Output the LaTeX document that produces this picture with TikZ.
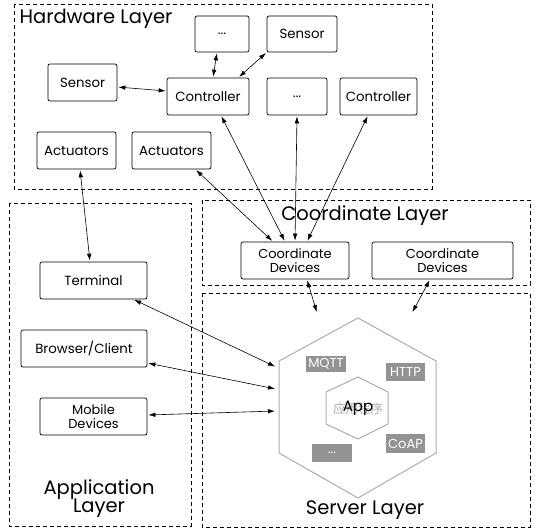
\documentclass[tikz,border=0pt]{standalone}
\usepackage{fontspec}
\setmainfont{Poppins}
\newfontfamily\cjk{Noto Sans CJK SC}
\usetikzlibrary{arrows.meta,calc}
\definecolor{tagfill}{HTML}{939393}
\definecolor{hexline}{HTML}{ADADAD}
\begin{document}
\begin{tikzpicture}[x=1pt,y=-1pt,
  box/.style={draw, rounded corners=2pt, line width=0.7pt, inner sep=0pt, align=center, font=\fontsize{13.3}{14}\selectfont},
  smallbox/.style={box, font=\fontsize{13}{14}\selectfont},
  layer/.style={draw, dashed, dash pattern=on 4pt off 3pt, line width=0.7pt},
  layertitle/.style={inner sep=0pt, font=\fontsize{19.5}{21}\selectfont, align=center},
  conn/.style={{Latex[length=7pt,width=4.5pt]}-{Latex[length=7pt,width=4.5pt]}, line width=0.6pt, shorten <=1pt, shorten >=1pt},
  tag/.style={fill=tagfill, text=white, inner sep=0pt, font=\fontsize{13}{13}\selectfont}]
\useasboundingbox (0,0) rectangle (538,531);
\fill[white] (0,0) rectangle (538,531);

% layers
\draw[layer] (14,4) rectangle (432,189);
\draw[layer] (202,200) rectangle (530,285);
\draw[layer] (9,203) rectangle (191,526);
\draw[layer] (202,293) rectangle (530,527);

\node[layertitle] (hwt) at (96,19) {Hardware Layer};
\node[layertitle] (cot) at (365,216) {Coordinate Layer};
\node[layertitle] (apt) at (99,499) {Application\\[-3pt]Layer};
\node[layertitle] (svt) at (365,510) {Server Layer};

% hardware boxes
\node[box, minimum width=54pt, minimum height=36pt] (dotsT) at (222,34) {...};
\node[box, minimum width=70pt, minimum height=36pt] (sensT) at (302,34) {Sensor};
\node[box, minimum width=69pt, minimum height=37pt] (sensL) at (82.5,82.5) {Sensor};
\node[box, minimum width=82pt, minimum height=37pt] (ctrlL) at (208,96.5) {Controller};
\node[box, minimum width=60pt, minimum height=37pt] (dotsM) at (297,96.5) {...};
\node[box, minimum width=77pt, minimum height=37pt] (ctrlR) at (378.5,96.5) {Controller};
\node[box, minimum width=79pt, minimum height=37pt] (act1) at (76.5,150.5) {Actuators};
\node[box, minimum width=79pt, minimum height=37pt] (act2) at (171.5,150.5) {Actuators};

% coordinate boxes
\node[smallbox, minimum width=108pt, minimum height=37pt] (cd1) at (295,260.5) {Coordinate\\Devices};
\node[smallbox, minimum width=141pt, minimum height=37pt] (cd2) at (442.5,260.5) {Coordinate\\Devices};

% application boxes
\node[box, minimum width=107pt, minimum height=37pt] (term) at (93.5,280.5) {Terminal};
\node[box, minimum width=126pt, minimum height=37pt] (brow) at (84,348.5) {Browser/Client};
\node[smallbox, minimum width=107pt, minimum height=37pt] (mob) at (93.5,416.5) {Mobile\\Devices};

% server hexagons
\draw[hexline, line width=1pt] (358,318) -- (436,361) -- (436,453) -- (358,498) -- (279,453) -- (279,361) -- cycle;
\draw[hexline, line width=1pt] (358,377) -- (388,392) -- (388,424) -- (358,439) -- (326,424) -- (326,392) -- cycle;
\node[text=hexline, inner sep=0pt, font=\cjk\fontsize{12.5}{12.5}\selectfont] (zh) at (358,409) {应用程序};
\node[inner sep=0pt, font=\fontsize{15}{16}\selectfont] (app) at (358,408) {App};

\node[tag, minimum width=40pt, minimum height=16pt] (mqtt) at (326,364) {MQTT};
\node[tag, minimum width=39pt, minimum height=18pt] (http) at (405.5,372) {HTTP};
\node[tag, minimum width=39pt, minimum height=19pt] (coap) at (405.5,443.5) {CoAP};
\node[tag, minimum width=40pt, minimum height=18pt] (tdots) at (332,453) {...};

\coordinate (s1) at (317,313);
\coordinate (s2) at (412,313);
\coordinate (s3) at (276,367);
\coordinate (s4) at (276,389);
\coordinate (s5) at (276,411);

% connectors
\draw[conn] ([xshift=-5pt]dotsT.south) -- ([xshift=5pt]ctrlL.north);
\draw[conn] (sensT.south west) -- ([xshift=-11pt]ctrlL.north east);
\draw[conn] ([yshift=-4.5pt]sensL.east) -- ([yshift=5.5pt]ctrlL.west);
\draw[conn] ([xshift=3.5pt]act1.south) -- ([xshift=-3.5pt]term.north);
\draw[conn] ([xshift=-16pt]act2.south east) -- ([xshift=-22pt]cd1.north);
\draw[conn] ([xshift=13pt]ctrlL.south) -- ([xshift=-10pt]cd1.north);
\draw[conn] (dotsM.south) -- (cd1.north);
\draw[conn] ([xshift=-10.5pt]ctrlR.south) -- ([xshift=12pt]cd1.north);
\draw[conn] ([xshift=12pt]cd1.south) -- (s1);
\draw[conn] ([xshift=-12.5pt]cd2.south) -- (s2);
\draw[conn] ([xshift=-14pt]term.south east) -- (s3);
\draw[conn] ([yshift=-14.5pt]brow.east) -- (s4);
\draw[conn] ([yshift=1.5pt]mob.east) -- (s5);
\end{tikzpicture}
\end{document}
